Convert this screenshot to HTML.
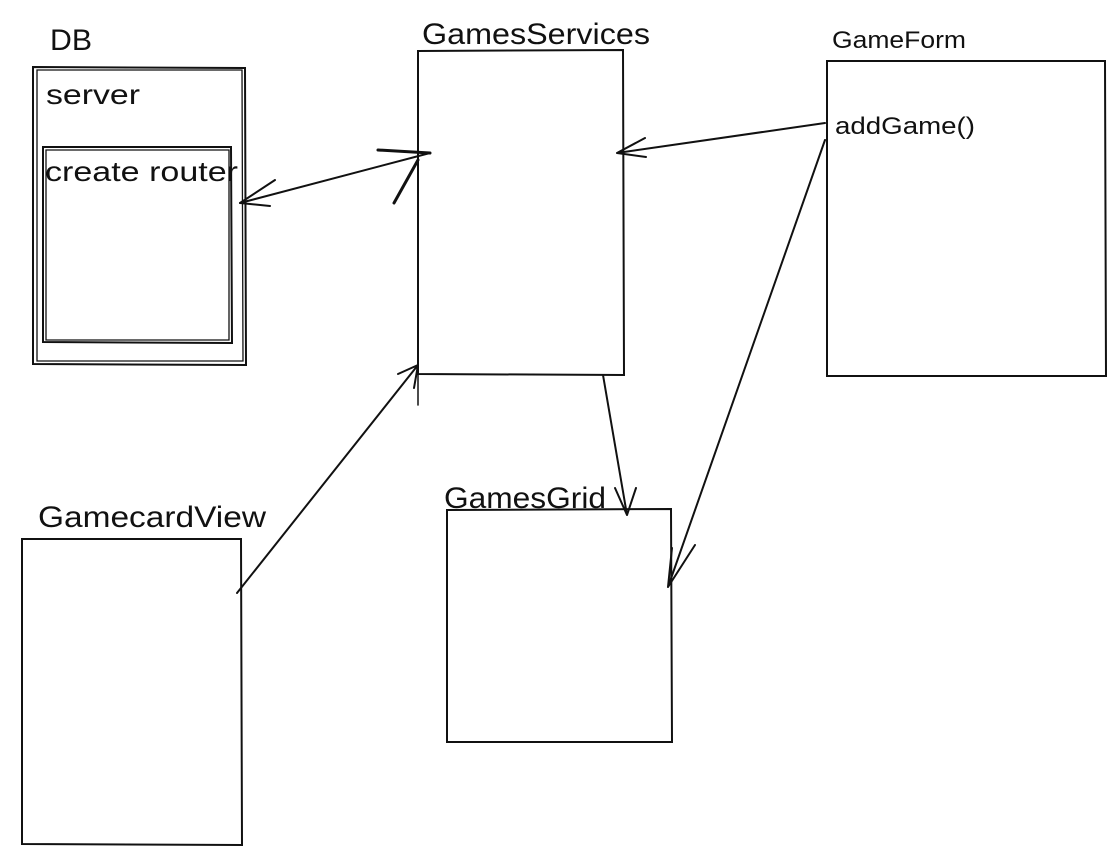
<!DOCTYPE html>
<html><head><meta charset="utf-8"><style>
html,body{margin:0;padding:0;background:#fff;width:1114px;height:862px;overflow:hidden}
svg{display:block}
text{font-family:"Liberation Sans","DejaVu Sans",sans-serif;fill:#111}
</style></head><body>
<svg width="1114" height="862" viewBox="0 0 1114 862" xmlns="http://www.w3.org/2000/svg">
<g fill="none" stroke="#111" stroke-width="2" stroke-linecap="round">
<path d="M33 67 L245 68 L246 365 L33 364 Z"/>
<path d="M37 70 L242 70 L243 361 L37 361 Z" stroke-width="1.3"/>
<path d="M43 147 L231 147 L232 343 L43 342 Z"/>
<path d="M46 150 L229 150 L229 340 L46 340 Z" stroke-width="1.3"/>
<path d="M418 51 L623 50 L624 375 L418 374 Z"/>
<path d="M418 374 L418 405" stroke-width="1.5"/>
<path d="M827 61 L1105 61 L1106 376 L827 376 Z"/>
<path d="M22 539 L241 539 L242 845 L22 844 Z"/>
<path d="M447 510 L671 509 L672 742 L447 742 Z"/>
<path d="M430 153 L240 203"/>
<path d="M240 203 L275 180 M240 203 L270 206"/>
<path d="M378 150 L430 153 M394 203 L418 160" stroke-width="3"/>
<path d="M825 123 L617 153 M617 153 L645 138 M617 153 L646 157"/>
<path d="M237 593 L418 365 M418 365 L398 374 M418 365 L414 388"/>
<path d="M603 375 L627 515 M627 515 L615 488 M627 515 L636 488"/>
<path d="M825 140 L668 587 M668 587 L672 548 M668 587 L695 545"/>
</g>
<text x="50" y="50" font-size="30" textLength="42" lengthAdjust="spacingAndGlyphs">DB</text>
<text x="46" y="104" font-size="28" textLength="94" lengthAdjust="spacingAndGlyphs">server</text>
<text x="45" y="181" font-size="28" textLength="193" lengthAdjust="spacingAndGlyphs">create router</text>
<text x="422" y="44" font-size="30" textLength="228" lengthAdjust="spacingAndGlyphs">GamesServices</text>
<text x="832" y="48" font-size="24" textLength="134" lengthAdjust="spacingAndGlyphs">GameForm</text>
<text x="835" y="134" font-size="24" textLength="140" lengthAdjust="spacingAndGlyphs">addGame()</text>
<text x="38" y="527" font-size="30" textLength="228" lengthAdjust="spacingAndGlyphs">GamecardView</text>
<text x="444" y="508" font-size="30" textLength="162" lengthAdjust="spacingAndGlyphs">GamesGrid</text>
</svg>
</body></html>
